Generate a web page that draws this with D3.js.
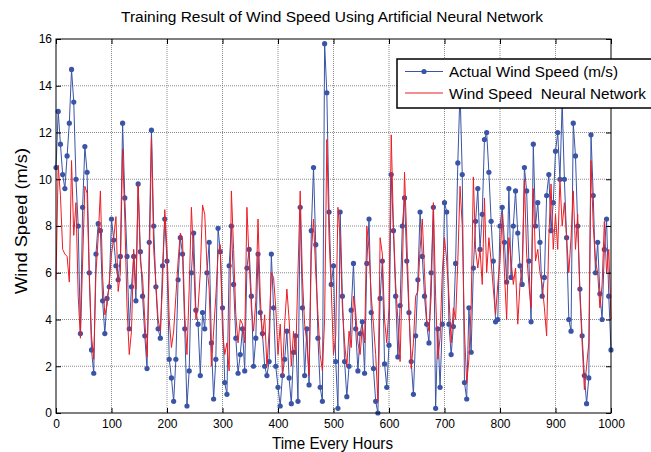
<html>
<head>
<meta charset="utf-8">
<title>Training Result of Wind Speed</title>
<script src="https://d3js.org/d3.v7.min.js"></script>
<style>
  body { margin: 0; background: #fff; }
  text { font-family: "Liberation Sans", Arial, Helvetica, sans-serif; fill: #000; }
</style>
</head>
<body>
<svg width="651" height="452"></svg>
<script>
// sample hours (every 4 h, 0..1000)
var hours = d3.range(0, 1001, 4);

var actual = [
  10.5,12.9,11.5,10.2,9.6,11.0,12.4,14.7,13.3,10.0,8.0,3.4,8.8,11.4,10.3,6.0,2.7,1.7,6.8,8.1,7.8,4.8,3.4,4.9,5.4,
  8.3,7.4,6.3,5.7,6.7,12.4,9.2,6.7,3.6,5.4,6.7,4.8,9.8,6.9,5.0,3.3,1.9,7.3,12.1,8.0,5.4,3.6,3.2,6.3,8.3,
  6.5,2.3,1.5,0.5,2.3,5.7,7.5,6.8,3.6,0.3,1.8,6.0,7.7,4.4,3.8,1.6,4.3,3.6,6.0,7.3,3.0,0.6,2.3,7.9,6.9,
  4.5,1.3,0.8,6.3,8.0,5.5,3.2,1.7,2.5,3.6,1.8,6.2,7.0,5.0,2.0,3.2,6.8,4.3,3.4,2.0,1.6,2.2,6.8,4.5,2.0,
  1.1,0.3,1.6,2.3,3.5,1.5,0.4,2.6,3.3,0.5,8.8,4.5,1.6,3.6,1.2,7.8,10.5,7.2,3.2,1.1,0.5,15.8,13.7,8.6,5.5,
  6.3,2.2,0.2,8.6,5.0,2.2,0.7,2.0,4.4,6.4,3.6,1.8,3.4,3.9,1.7,6.4,8.3,4.3,1.9,0.5,0.0,4.9,6.5,2.1,1.1,
  2.9,10.2,7.8,5.0,2.4,4.6,8.0,9.2,6.5,4.3,2.2,0.8,3.3,5.7,8.6,6.7,5.0,3.8,3.0,6.0,8.8,0.2,3.6,1.1,3.8,
  9.0,8.6,3.8,2.5,3.7,6.4,10.7,13.8,10.2,1.3,0.6,4.5,2.6,6.2,8.2,9.6,7.0,8.5,11.7,12.0,10.3,8.2,6.5,3.9,4.0,
  8.0,8.8,7.3,5.6,9.6,5.8,8.0,9.5,7.7,6.3,5.5,10.5,9.5,6.5,3.9,11.5,8.0,9.0,7.3,5.0,5.8,9.3,10.2,7.8,9.0,
  11.2,12.0,10.0,13.3,10.0,7.5,4.0,3.5,12.4,11.0,8.0,5.3,3.3,1.6,0.4,1.5,11.9,9.3,6.0,7.3,5.1,4.0,7.0,8.3,5.0,
  2.7
];

// neural network output (m/s)
var network = [
  5.7,10.6,9.3,7.0,6.8,6.7,5.6,10.8,7.6,9.0,5.0,3.2,6.5,9.7,9.4,5.8,3.3,2.3,6.0,7.5,9.5,5.8,4.2,4.6,5.6,
  6.8,7.5,8.4,5.2,6.0,11.3,8.3,4.5,2.5,3.5,7.0,5.3,9.8,6.5,5.8,4.0,2.4,6.0,11.8,7.0,5.5,4.0,3.5,5.5,8.7,
  7.0,4.0,2.8,3.5,5.0,6.5,7.7,7.4,4.2,2.5,5.3,8.8,6.5,4.0,4.5,6.0,8.9,8.5,6.3,5.3,2.0,3.5,5.0,6.8,7.2,
  3.5,2.5,3.0,1.8,9.5,7.0,4.2,3.0,4.0,3.8,3.0,8.8,6.5,4.5,3.5,4.8,8.3,5.0,3.2,4.2,2.0,3.5,6.0,5.8,4.5,
  2.5,3.8,1.6,3.8,5.3,4.0,2.0,3.5,2.5,6.0,9.5,5.8,3.8,3.0,1.6,6.8,8.3,6.0,4.2,2.5,1.8,4.0,11.7,7.5,5.3,
  2.5,3.3,8.8,7.5,4.5,3.0,2.0,3.5,2.8,5.0,4.3,3.0,2.5,3.7,3.0,8.0,7.0,5.0,3.8,2.5,0.5,7.5,6.8,4.0,3.0,
  4.5,11.9,8.0,5.5,4.0,2.2,6.0,10.3,7.5,4.5,1.9,3.0,5.0,5.2,7.0,8.3,6.0,4.0,3.5,5.0,9.0,5.0,2.3,3.2,6.0,
  7.5,6.5,5.0,3.0,4.5,4.0,6.5,9.7,8.0,3.5,1.3,2.3,4.5,10.1,7.0,6.2,7.0,5.5,9.2,6.0,7.5,6.5,5.3,4.2,5.5,
  6.5,8.5,6.0,4.0,7.5,6.5,5.5,6.2,3.8,5.5,6.3,10.0,6.8,5.5,4.5,9.6,6.5,7.0,6.0,5.5,4.5,3.3,7.5,9.8,7.0,
  8.5,7.0,10.0,8.0,9.0,7.5,6.0,7.5,9.5,7.0,8.5,5.0,3.0,1.0,2.0,3.0,10.8,8.0,6.5,6.0,4.5,5.5,8.2,6.0,7.0,
  4.0
];

var xTicks = [0,100,200,300,400,500,600,700,800,900,1000];
var yTicks = [0,2,4,6,8,10,12,14,16];

var svg = d3.select("svg"),
    margin = {top: 39, right: 40, bottom: 39, left: 56},
    width = +svg.attr("width") - margin.left - margin.right,
    height = +svg.attr("height") - margin.top - margin.bottom,
    g = svg.append("g").attr("transform", `translate(${margin.left},${margin.top})`);

var x = d3.scaleLinear().domain([0, 1000]).range([0, width]);
var y = d3.scaleLinear().domain([0, 16]).range([height, 0]);

var blue = "#3a54a6", red = "#ee1c24";

// dotted grid
g.append("g").selectAll("line")
  .data(xTicks.slice(1, -1)).enter().append("line")
    .attr("x1", d => x(d)).attr("x2", d => x(d))
    .attr("y1", 0).attr("y2", height)
    .attr("stroke", "#8a8a8a").attr("stroke-dasharray", "1,1");
g.append("g").selectAll("line")
  .data(yTicks.slice(1, -1)).enter().append("line")
    .attr("y1", d => y(d)).attr("y2", d => y(d))
    .attr("x1", 0).attr("x2", width)
    .attr("stroke", "#8a8a8a").attr("stroke-dasharray", "1,1");

// series
var actualData = hours.map((h, i) => ({h: h, v: actual[i]}));
var netData = hours.map((h, i) => ({h: h, v: network[i]}));

var line = d3.line().x(d => x(d.h)).y(d => y(d.v));

g.append("path").datum(actualData)
  .attr("fill", "none").attr("stroke", blue).attr("stroke-width", 1)
  .attr("d", line);
g.append("g").selectAll("circle")
  .data(actualData).enter().append("circle")
    .attr("cx", d => x(d.h)).attr("cy", d => y(d.v))
    .attr("r", 2.6).attr("fill", blue);

g.append("path").datum(netData)
  .attr("fill", "none").attr("stroke", red).attr("stroke-width", 1)
  .attr("d", line);

// axes, ticks pointing inside
var fmt = d3.format("d");
var axBottom = g.append("g").attr("transform", `translate(0,${height})`)
  .call(d3.axisBottom(x).tickValues(xTicks).tickSize(-5).tickPadding(6).tickFormat(fmt));
var axLeft = g.append("g")
  .call(d3.axisLeft(y).tickValues(yTicks).tickSize(-5).tickPadding(4).tickFormat(fmt));
var axTop = g.append("g")
  .call(d3.axisTop(x).tickValues(xTicks).tickSize(-5).tickFormat(""));
var axRight = g.append("g").attr("transform", `translate(${width},0)`)
  .call(d3.axisRight(y).tickValues(yTicks).tickSize(-5).tickFormat(""));

[axBottom, axLeft, axTop, axRight].forEach(a => {
  a.select(".domain").remove();
  a.selectAll("line").attr("stroke", "#000");
  a.selectAll("text").style("font-size", "12px").attr("fill", "#000")
    .style("font-family", "'Liberation Sans', Arial, sans-serif");
});

g.append("rect")
  .attr("width", width).attr("height", height)
  .attr("fill", "none").attr("stroke", "#000").attr("stroke-width", 1);

// title and axis labels
svg.append("text")
  .attr("x", 332).attr("y", 22)
  .attr("text-anchor", "middle")
  .style("font-size", "14px")
  .attr("textLength", 422).attr("lengthAdjust", "spacingAndGlyphs")
  .text("Training Result of Wind Speed Using Artificial Neural Network");

svg.append("text")
  .attr("x", 332.5).attr("y", 449)
  .attr("text-anchor", "middle")
  .style("font-size", "16px")
  .attr("textLength", 121).attr("lengthAdjust", "spacingAndGlyphs")
  .text("Time Every Hours");

svg.append("text")
  .attr("transform", "translate(27,221) rotate(-90)")
  .attr("text-anchor", "middle")
  .style("font-size", "16px")
  .attr("textLength", 146).attr("lengthAdjust", "spacingAndGlyphs")
  .text("Wind Speed (m/s)");

// legend
var legend = svg.append("g").attr("transform", "translate(397,59)");
legend.append("rect")
  .attr("width", 258).attr("height", 49)
  .attr("fill", "#fff").attr("stroke", "#000").attr("stroke-width", 1.5);

var keys = [
  {name: "Actual Wind Speed (m/s)", color: blue, dot: true, len: 169},
  {name: "Wind Speed  Neural Network", color: red, dot: false, len: 197}
];
var rows = legend.selectAll(".row")
  .data(keys).enter().append("g")
    .attr("class", "row")
    .attr("transform", (d, i) => `translate(0,${12.5 + i * 21.5})`);
rows.append("line")
  .attr("x1", 8).attr("x2", 46)
  .attr("stroke", d => d.color).attr("stroke-width", 1.2);
rows.filter(d => d.dot).append("circle")
  .attr("cx", 27).attr("r", 2.6).attr("fill", blue);
rows.append("text")
  .attr("x", 52).attr("y", 5.5)
  .style("font-size", "15px").style("white-space", "pre")
  .attr("textLength", d => d.len).attr("lengthAdjust", "spacingAndGlyphs")
  .text(d => d.name);
</script>
</body>
</html>
